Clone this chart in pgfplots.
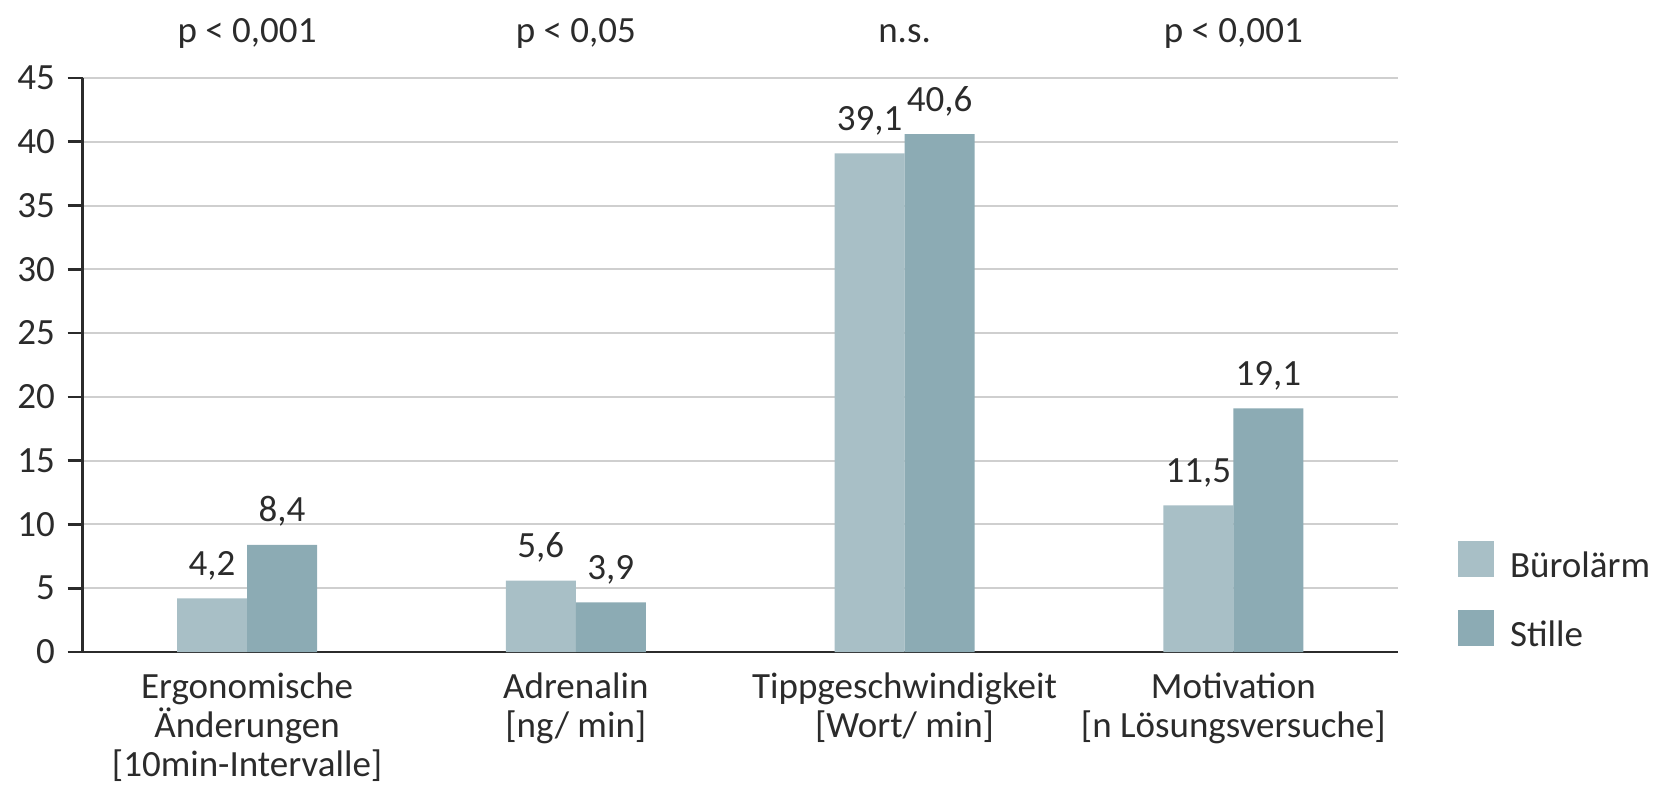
\documentclass[border=0pt]{standalone}
\usepackage{pgfplots}
\pgfplotsset{compat=1.18}
\usepackage{fontspec}
\setmainfont{Carlito}
\definecolor{light}{HTML}{A8BFC6}
\definecolor{dark}{HTML}{8CABB4}
\definecolor{txt}{HTML}{2B2B2B}
\definecolor{gridc}{HTML}{CFCFCF}
\begin{document}
\fontsize{18.5}{19.5}\selectfont
\begin{tikzpicture}
\path[use as bounding box] (-41.35pt,-68pt) rectangle (790.15pt,326pt);
\begin{axis}[
  at={(0pt,0pt)}, anchor=south west,
  scale only axis, width=657.5pt, height=287pt,
  /pgf/number format/assume math mode=true,
  ybar, bar width=35pt,
  xmin=-0.5, xmax=3.5, ymin=0, ymax=45,
  xtick={0,1,2,3},
  xticklabels={{Ergonomische\\Änderungen\\{[10min-Intervalle]}},{Adrenalin\\{[ng/ min]}},{Tippgeschwindigkeit\\{[Wort/ min]}},{Motivation\\{[n Lösungsversuche]}}},
  xticklabel style={align=center, anchor=north, text=txt, yshift=3.5pt},
  ytick={0,5,...,45},
  yticklabel style={text=txt},
  axis lines*=left,
  axis line style={draw=txt, line width=1.4pt},
  tick align=outside, major tick length=7.5pt,
  xtick style={draw=none},
  ytick style={draw=txt, line width=1.3pt},
  ymajorgrids, grid style={draw=gridc, line width=1pt},
  clip=false,
  nodes near coords={\pgfmathprintnumber[fixed,fixed zerofill,precision=1,use comma]{\pgfplotspointmeta}},
  every node near coord/.append style={anchor=base, yshift=11.5pt, text=txt},
  legend image code/.code={\fill[#1] (0pt,-4.5pt) rectangle (18pt,13.5pt);},
  legend style={at={(1.0459,0.194)}, anchor=north west, draw=none, fill=none,
    inner sep=0pt, outer sep=0pt, row sep=13.2pt, column sep=8pt,
    nodes={inner sep=0pt, text=txt}},
  legend cell align=left,
]
\addplot[fill=light, draw=none, bar shift=-17.5pt] coordinates {(0,4.2) (1,5.6) (2,39.1) (3,11.5)};
\addplot[fill=dark, draw=none, bar shift=17.5pt] coordinates {(0,8.4) (1,3.9) (2,40.6) (3,19.1)};
\legend{Bürolärm,Stille}
\node[anchor=base, text=txt, yshift=18pt] at (axis cs:0,45) {p < 0,001};
\node[anchor=base, text=txt, yshift=18pt] at (axis cs:1,45) {p < 0,05};
\node[anchor=base, text=txt, yshift=18pt] at (axis cs:2,45) {n.s.};
\node[anchor=base, text=txt, yshift=18pt] at (axis cs:3,45) {p < 0,001};
\end{axis}
\end{tikzpicture}
\end{document}
